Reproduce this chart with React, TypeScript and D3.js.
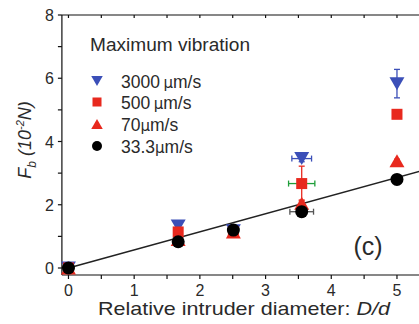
import React from "react";
import * as d3 from "d3";

const xVals = [0, 1.67, 2.51, 3.55, 5.0];
const v3000 = [0, 1.33, 1.18, 3.46, 5.83];
const v500 = [0, 1.14, 1.15, 2.67, 4.86];
const v70 = [0, 0.9, 1.14, 2.05, 3.39];
const v33 = [0, 0.83, 1.2, 1.78, 2.8];

const xErr3000 = [0, 0, 0, 0.15, 0];
const yErr3000 = [0, 0.05, 0.05, 0.1, 0.45];
const xErr500 = [0, 0, 0, 0.2, 0];
const yErr500 = [0, 0.05, 0.05, 0.55, 0.05];
const xErr70 = [0, 0, 0, 0, 0];
const yErr70 = [0.1, 0.1, 0.12, 0.1, 0.05];
const xErr33 = [0.05, 0.05, 0.05, 0.18, 0];
const yErr33 = [0.05, 0.08, 0.08, 0.08, 0.05];

const fitLine = [
  { x: 0, y: 0 },
  { x: 5.6, y: 3.2 },
];

const xTicks = [0, 1, 2, 3, 4, 5];
const xMinor = [0, 0.5, 1, 1.5, 2, 2.5, 3, 3.5, 4, 4.5, 5, 5.5];
const yTicks = [0, 2, 4, 6, 8];
const yMinor = [0, 1, 2, 3, 4, 5, 6, 7, 8];

const legendLabels = ["3000", "500", "70", "33.3"];

const BLUE = "#3b4fb8";
const RED = "#e8291e";
const BLACK = "#000";
const GREEN = "#1f9e3a";
const TEXT = "#2a2a2a";

const W = 419;
const H = 324;

const x = d3.scaleLinear().domain([-0.1, 5.6]).range([61.9, 61.9 + 5.7 * 65.7]);
const y = d3.scaleLinear().domain([0, 8]).range([268, 15]);
const yBottom = 275;
const yTop = 15;
const xLeft = 61.9;

type Shape = "down" | "square" | "up" | "circle";

function Marker({ shape, cx, cy, color, s }: { shape: Shape; cx: number; cy: number; color: string; s: number }) {
  if (shape === "circle") return <circle cx={cx} cy={cy} r={s / 2} fill={color} />;
  if (shape === "square")
    return <rect x={cx - s / 2} y={cy - s / 2} width={s} height={s} fill={color} />;
  const w = s * 1.15;
  const h = s;
  if (shape === "up") {
    const p = `${cx - w / 2},${cy + h / 2} ${cx + w / 2},${cy + h / 2} ${cx},${cy - h / 2}`;
    return <polygon points={p} fill={color} />;
  }
  const p = `${cx - w / 2},${cy - h / 2} ${cx + w / 2},${cy - h / 2} ${cx},${cy + h / 2}`;
  return <polygon points={p} fill={color} />;
}

function Series({
  vals,
  xErr,
  yErr,
  shape,
  color,
  xErrColor,
  size,
}: {
  vals: number[];
  xErr: number[];
  yErr: number[];
  shape: Shape;
  color: string;
  xErrColor: string;
  size: number;
}) {
  return (
    <g>
      {vals.map((v, i) => {
        const cx = x(xVals[i]);
        const cy = y(v);
        const ey = yErr[i];
        const ex = xErr[i];
        return (
          <g key={i}>
            {ey > 0 && (
              <g stroke={color} strokeWidth={1.3}>
                <line x1={cx} x2={cx} y1={y(v - ey)} y2={y(v + ey)} />
                <line x1={cx - 3} x2={cx + 3} y1={y(v - ey)} y2={y(v - ey)} />
                <line x1={cx - 3} x2={cx + 3} y1={y(v + ey)} y2={y(v + ey)} />
              </g>
            )}
            {ex > 0 && (
              <g stroke={xErrColor} strokeWidth={1.3}>
                <line x1={x(xVals[i] - ex)} x2={x(xVals[i] + ex)} y1={cy} y2={cy} />
                <line x1={x(xVals[i] - ex)} x2={x(xVals[i] - ex)} y1={cy - 3} y2={cy + 3} />
                <line x1={x(xVals[i] + ex)} x2={x(xVals[i] + ex)} y1={cy - 3} y2={cy + 3} />
              </g>
            )}
            <Marker shape={shape} cx={cx} cy={cy} color={color} s={size} />
          </g>
        );
      })}
    </g>
  );
}

export default function App() {
  const line = d3
    .line<{ x: number; y: number }>()
    .x((d) => x(d.x))
    .y((d) => y(d.y));

  const font = "'Liberation Sans', Arial, Helvetica, sans-serif";
  const legendShapes: Shape[] = ["down", "square", "up", "circle"];
  const legendColors = [BLUE, RED, RED, BLACK];
  const legendSizes = [10, 9, 10, 10];
  const legendY = [82, 103, 125, 147];
  const legendSpace = [true, true, false, false];

  return (
    <svg
      width={W}
      height={H}
      style={{ position: "absolute", left: 0, top: 0, background: "#fff" }}
      fontFamily={font}
    >
      <rect x={0} y={0} width={W} height={H} fill="#fff" />
      {/* axes */}
      <g stroke="#111" strokeWidth={1.2} fill="none">
        <line x1={xLeft} x2={W} y1={yBottom} y2={yBottom} />
        <line x1={xLeft} x2={W} y1={yTop} y2={yTop} />
        <line x1={xLeft} x2={xLeft} y1={yTop} y2={yBottom} />
        {xMinor.map((t) => (
          <g key={"xt" + t}>
            <line x1={x(t)} x2={x(t)} y1={yBottom} y2={yBottom + 4} />
            <line x1={x(t)} x2={x(t)} y1={yTop} y2={yTop + 3} />
          </g>
        ))}
        {yMinor.map((t) => (
          <line key={"yt" + t} x1={xLeft - 4} x2={xLeft} y1={y(t)} y2={y(t)} />
        ))}
      </g>
      {/* tick labels */}
      <g fill={TEXT} fontSize={16}>
        {xTicks.map((t) => (
          <text key={"xl" + t} x={x(t)} y={296} textAnchor="middle">
            {t}
          </text>
        ))}
        {yTicks.map((t) => (
          <text key={"yl" + t} x={54} y={y(t) + 6} textAnchor="end">
            {t}
          </text>
        ))}
      </g>
      {/* axis titles */}
      <text x={244} y={315} textAnchor="middle" fontSize={19} fill={TEXT} textLength={292} lengthAdjust="spacingAndGlyphs">
        Relative intruder diameter: <tspan fontStyle="italic">D/d</tspan>
      </text>
      <text
        transform="translate(31,140) rotate(-90)"
        textAnchor="middle"
        fontSize={18}
        fill={TEXT}
        fontStyle="italic"
      >
        F<tspan fontSize={12} dy={5}>b</tspan>
        <tspan dy={-5}> (10</tspan>
        <tspan fontSize={11} dy={-7}>-2</tspan>
        <tspan dy={7}>N)</tspan>
      </text>
      {/* fit line */}
      <path d={line(fitLine) || ""} stroke="#222" strokeWidth={1.5} fill="none" />
      {/* data */}
      <Series vals={v3000} xErr={xErr3000} yErr={yErr3000} shape="down" color={BLUE} xErrColor={BLUE} size={13} />
      <Series vals={v500} xErr={xErr500} yErr={yErr500} shape="square" color={RED} xErrColor={GREEN} size={11} />
      <Series vals={v70} xErr={xErr70} yErr={yErr70} shape="up" color={RED} xErrColor={RED} size={13} />
      <Series vals={v33} xErr={xErr33} yErr={yErr33} shape="circle" color={BLACK} xErrColor="#555" size={13} />
      {/* legend */}
      <text x={90} y={51} fontSize={17.5} fill={TEXT} textLength={160} lengthAdjust="spacingAndGlyphs">
        Maximum vibration
      </text>
      {legendLabels.map((lab, i) => (
        <g key={"lg" + i}>
          <Marker shape={legendShapes[i]} cx={97} cy={legendY[i] - 1} color={legendColors[i]} s={legendSizes[i]} />
          <text x={121} y={legendY[i] + 6} fontSize={17.5} fill={TEXT}>
            {lab}
            {legendSpace[i] ? "\u2009" : ""}
            <tspan fontFamily="'DejaVu Sans', sans-serif" fontSize={15}>µ</tspan>m/s
          </text>
        </g>
      ))}
      <text x={368} y={255} textAnchor="middle" fontSize={25} fill={TEXT}>
        (c)
      </text>
    </svg>
  );
}
